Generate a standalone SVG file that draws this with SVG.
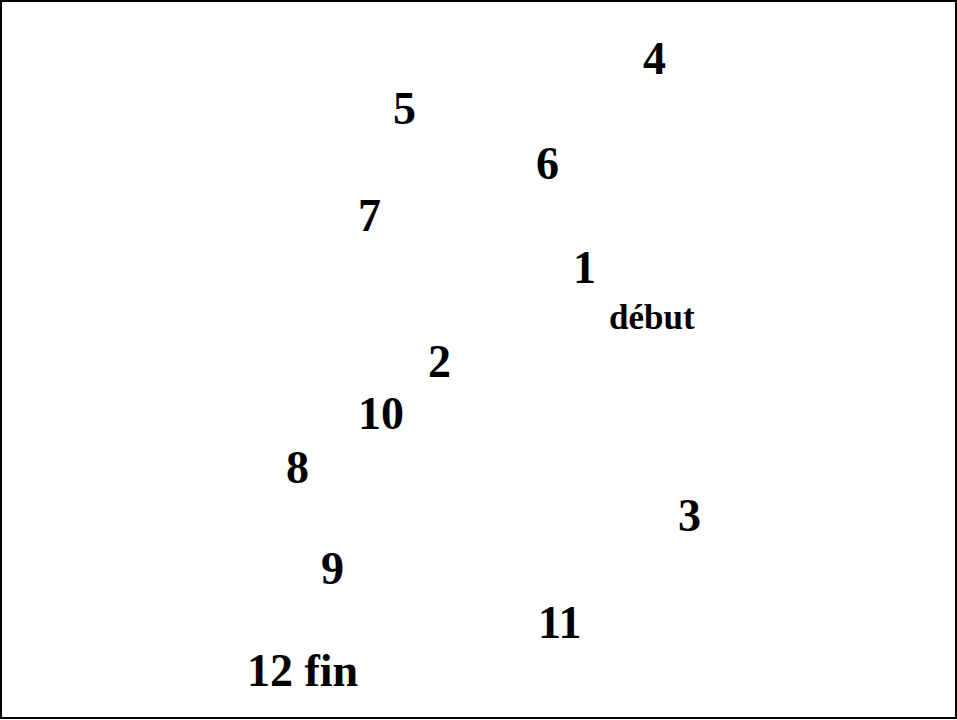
<svg xmlns="http://www.w3.org/2000/svg" width="957" height="720" viewBox="0 0 957 720">
<style>
.t{font-family:"Liberation Serif","Times New Roman",serif;font-weight:bold;font-size:46px;fill:#000}
.s{font-size:35px}
</style>
<rect x="0" y="0" width="957" height="720" fill="#fff"/>
<rect x="1" y="1" width="955" height="717" fill="none" stroke="#000" stroke-width="2"/>
<g id="n4"><text class="t" x="643" y="74">4</text></g>
<g id="n5"><text class="t" x="393" y="124">5</text></g>
<g id="n6"><text class="t" x="536" y="179">6</text></g>
<g id="n7"><text class="t" x="358" y="231">7</text></g>
<g id="n1"><text class="t" x="573" y="283">1</text></g>
<g id="debut"><text class="t s" x="609" y="329">début</text></g>
<g id="n2"><text class="t" x="428" y="377">2</text></g>
<g id="n10"><text class="t" x="358" y="429">10</text></g>
<g id="n8"><text class="t" x="286" y="483">8</text></g>
<g id="n3"><text class="t" x="678" y="531">3</text></g>
<g id="n9"><text class="t" x="321" y="584">9</text></g>
<g id="n11"><text class="t" x="538" y="638">11</text></g>
<g id="n12"><text class="t" x="247" y="686">12 fin</text></g>
<g id="connectors"></g>
</svg>
